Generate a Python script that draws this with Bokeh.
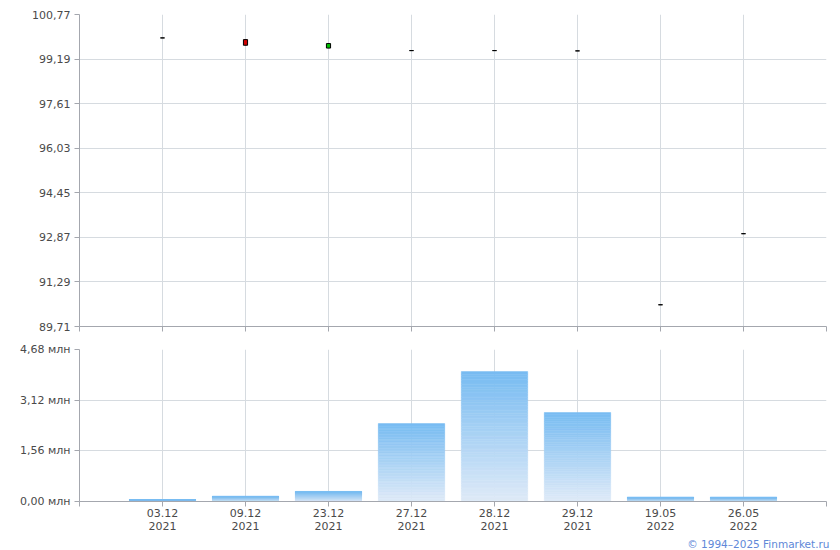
from bokeh.plotting import figure
from bokeh.models import Range1d, FixedTicker, Title
from bokeh.layouts import column
from bokeh.embed import file_html
from bokeh.resources import INLINE
import numpy as np

# ---- data ----
dates = ["03.12\n2021", "09.12\n2021", "23.12\n2021", "27.12\n2021",
         "28.12\n2021", "29.12\n2021", "19.05\n2022", "26.05\n2022"]
open_ = [99.94, 99.88, 99.58, 99.49, 99.49, 99.48, 90.48, 93.00]
close = [99.94, 99.68, 99.74, 99.49, 99.49, 99.48, 90.48, 93.00]
high = [99.94, 99.88, 99.74, 99.49, 99.49, 99.48, 90.48, 93.00]
low = [99.94, 99.68, 99.58, 99.49, 99.49, 99.48, 90.48, 93.00]
volume_mln = [0.06, 0.16, 0.31, 2.40, 4.00, 2.74, 0.13, 0.13]
price_ticks = [89.71, 91.29, 92.87, 94.45, 96.03, 97.61, 99.19, 100.77]
volume_ticks = [0.0, 1.56, 3.12, 4.68]

FONT = "DejaVu Sans"
LABEL_COLOR = "#4a4a4a"
GRID = "#d6dbe0"
AXIS = "#a4a7ae"

n = len(dates)
xs = np.arange(1, n + 1)
x_ticks = list(range(0, n + 2))


def style(p):
    p.outline_line_color = None
    p.background_fill_color = "white"
    p.border_fill_color = "white"
    for ax in (p.xaxis[0], p.yaxis[0]):
        ax.axis_line_color = AXIS
        ax.major_tick_line_color = AXIS
        ax.minor_tick_line_color = None
        ax.major_tick_in = 0
        ax.major_tick_out = 5
        ax.major_label_text_font = FONT
        ax.major_label_text_font_size = "11px"
        ax.major_label_text_color = LABEL_COLOR
    p.xgrid.grid_line_color = GRID
    p.ygrid.grid_line_color = GRID
    p.xaxis.ticker = FixedTicker(ticks=x_ticks)
    p.xgrid.ticker = FixedTicker(ticks=x_ticks)


# ---- price panel ----
p1 = figure(width=840, height=332, output_backend="svg", toolbar_location=None,
            x_range=Range1d(0, n + 1), y_range=Range1d(price_ticks[0], price_ticks[-1]),
            min_border_left=79, min_border_right=14, min_border_top=14, min_border_bottom=6)
style(p1)
p1.yaxis.ticker = FixedTicker(ticks=price_ticks)
p1.ygrid.ticker = FixedTicker(ticks=price_ticks)
p1.yaxis.major_label_overrides = {t: f"{t:.2f}".replace(".", ",") for t in price_ticks}
p1.yaxis.major_label_standoff = 4
p1.xaxis.major_label_overrides = {t: "" for t in x_ticks}
p1.xaxis.major_label_standoff = 0

colors = []
for o, c in zip(open_, close):
    colors.append("#d00000" if c < o else ("#00c000" if c > o else "black"))
p1.segment(xs, high, xs, low, color="black", line_width=1)
p1.vbar(x=xs, width=0.05, top=[max(o, c) for o, c in zip(open_, close)],
        bottom=[min(o, c) for o, c in zip(open_, close)],
        fill_color=colors, line_color="black", line_width=1)

# ---- volume panel ----
p2 = figure(width=840, height=217, output_backend="svg", toolbar_location=None,
            x_range=p1.x_range, y_range=Range1d(volume_ticks[0], volume_ticks[-1]),
            min_border_left=79, min_border_right=14, min_border_top=17, min_border_bottom=10)
style(p2)
p2.yaxis.ticker = FixedTicker(ticks=volume_ticks)
p2.ygrid.ticker = FixedTicker(ticks=volume_ticks)
p2.yaxis.major_label_overrides = {t: f"{t:.2f}".replace(".", ",") + " млн" for t in volume_ticks}
p2.yaxis.major_label_standoff = 4
p2.xaxis.major_label_overrides = {i + 1: d for i, d in enumerate(dates)}
p2.xaxis.major_label_overrides.update({0: "", n + 1: ""})
p2.xaxis.major_label_standoff = 0
p2.xaxis.major_label_text_line_height = 1.0

# gradient bars: each bar sliced into bands from light (bottom) to blue (top)
N = 50
top_rgb = np.array([120, 188, 242])
bot_rgb = np.array([224, 235, 248])
bx, bb, bt, bc = [], [], [], []
for x, v in zip(xs, volume_mln):
    for k in range(N):
        f = (k + 0.5) / N
        rgb = (bot_rgb + (top_rgb - bot_rgb) * f).astype(int)
        bx.append(x)
        bb.append(v * k / N)
        bt.append(v * (k + 1) / N)
        bc.append("#%02x%02x%02x" % tuple(rgb))
p2.vbar(x=bx, width=0.8, bottom=bb, top=bt, fill_color=bc, line_color=bc, line_width=0.5)

p2.add_layout(Title(text="© 1994–2025 Finmarket.ru", align="right", text_font=FONT,
                    text_font_size="10.5px", text_font_style="normal",
                    text_color="#6088d8", standoff=0, offset=-3,
                    text_line_height=0.9), "below")

layout = column(p1, p2, spacing=0)
open("out.html", "w").write(file_html(layout, INLINE))
